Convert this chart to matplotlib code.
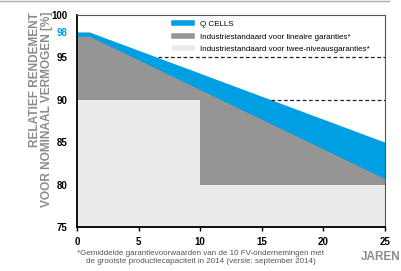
import numpy as np
import matplotlib
matplotlib.use("Agg")
import matplotlib.pyplot as plt
from matplotlib.lines import Line2D

plt.rcParams['font.family'] = ['Liberation Sans', 'DejaVu Sans']

# data (years vs relative performance in %)
qcells_years = [0, 1, 25]
qcells_vals = [98, 98, 85]
linear_years = [0, 1, 25]
linear_vals = [97.5, 97.5, 80.7]
twolevel_years = [0, 10, 10, 25]
twolevel_vals = [90, 90, 80, 80]
dash_levels = [95, 90]

labels = ["Q CELLS",
          "Industriestandaard voor lineaire garanties*",
          "Industriestandaard voor twee-niveausgaranties*"]
yticks = [75, 80, 85, 90, 95, 98, 100]
xticks = [0, 5, 10, 15, 20, 25]

blue = "#009fe3"
grey = "#959595"
light = "#ebebeb"
txtgrey = "#8c8c8c"

fig = plt.figure(figsize=(4.01, 2.71), dpi=100)
ax = fig.add_axes([0.192, 0.1624, 0.768, 0.7822])

ax.fill_between(qcells_years, 75, qcells_vals, color=blue, lw=0, label=labels[0])
ax.fill_between(linear_years, 75, linear_vals, color=grey, lw=0, label=labels[1])
ax.fill_between(twolevel_years, 75, twolevel_vals, color=light, lw=0, label=labels[2])

# dashed guide lines from where Q CELLS crosses the level
for lev in dash_levels:
    xs = np.interp(lev, qcells_vals[::-1], qcells_years[::-1])
    ax.plot([xs, 25], [lev, lev], ls=(0, (3, 2)), color="#222222", lw=0.9)

ax.set_xlim(0, 25)
ax.set_ylim(75, 100)
ax.set_xticks(xticks)
ax.set_yticks(yticks)
ax.set_xticklabels([str(v) for v in xticks], fontsize=7, fontweight='bold')
ax.set_yticklabels([str(v) for v in yticks], fontsize=7, fontweight='bold')
for lab in ax.get_yticklabels():
    if lab.get_text() == "98":
        lab.set_color(blue)
ax.tick_params(axis='y', length=0, pad=7)
ax.tick_params(axis='x', length=3, width=1, pad=4)

for s in ['left', 'bottom']:
    ax.spines[s].set_linewidth(1.3)
    ax.spines[s].set_color('black')
for s in ['top', 'right']:
    ax.spines[s].set_linewidth(0.8)
    ax.spines[s].set_color('#555555')

handles = [Line2D([0], [0], color=c, lw=4) for c in (blue, grey, light)]
ax.legend(handles, labels, loc='upper right', frameon=False, fontsize=5.8,
          handlelength=2.3, handletextpad=1.0, labelspacing=0.6,
          bbox_to_anchor=(0.97, 1.0), borderaxespad=0.3)

fig.text(0.102, 1 - 12 / 271, "RELATIEF RENDEMENT\nVOOR NOMINAAL VERMOGEN [%]",
         rotation=90, ha='center', va='top', multialignment='right',
         fontsize=8.6, fontweight='bold', color=txtgrey, linespacing=1.0)

fig.text(0.998, 0.052, "JAREN", ha='right', va='center', fontsize=8.5,
         fontweight='bold', color=txtgrey)

fig.text(0.5, 0.05,
         "*Gemiddelde garantievoorwaarden van de 10 FV-ondernemingen met\n"
         "de grootste productiecapaciteit in 2014 (versie: september 2014)",
         ha='center', va='center', fontsize=5.8, color='#555555', linespacing=1.2)

fig.add_artist(Line2D([0, 0.97], [0.996, 0.996], color='#aaaaaa', lw=1,
                      transform=fig.transFigure))

fig.savefig("out.png", dpi=100)
